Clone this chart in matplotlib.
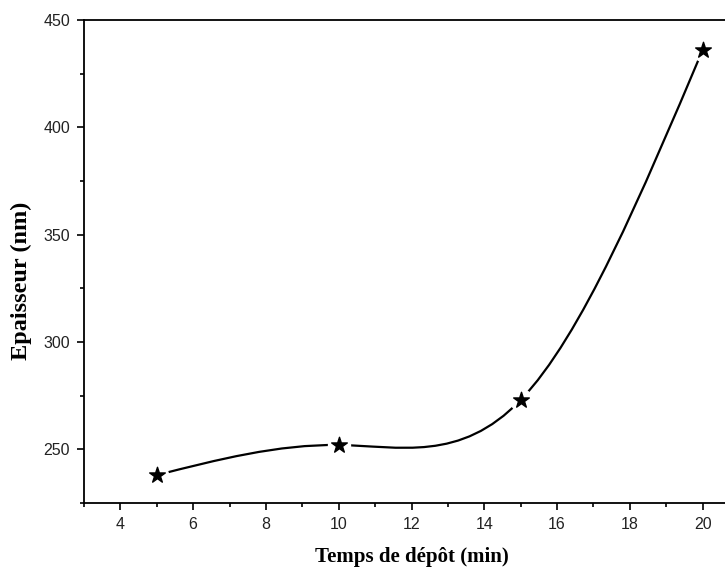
import numpy as np
import matplotlib.pyplot as plt
from matplotlib.path import Path
from matplotlib.patches import PathPatch
from matplotlib.ticker import MultipleLocator

temps = [5, 10, 15, 20]
epaisseur = [238, 252, 273, 436]


def spline_path(x, y):
    # natural cubic spline written as bezier segments, drawn by matplotlib
    x = np.asarray(x, float)
    y = np.asarray(y, float)
    n = len(x)
    h = np.diff(x)
    A = np.zeros((n, n))
    r = np.zeros(n)
    A[0, 0] = A[-1, -1] = 1
    for i in range(1, n - 1):
        A[i, i - 1] = h[i - 1]
        A[i, i] = 2 * (h[i - 1] + h[i])
        A[i, i + 1] = h[i]
        r[i] = 6 * ((y[i + 1] - y[i]) / h[i] - (y[i] - y[i - 1]) / h[i - 1])
    m = np.linalg.solve(A, r)
    d = np.zeros(n)
    for i in range(n - 1):
        d[i] = (y[i + 1] - y[i]) / h[i] - h[i] * (2 * m[i] + m[i + 1]) / 6
    d[-1] = (y[-1] - y[-2]) / h[-1] + h[-1] * (m[-2] + 2 * m[-1]) / 6
    verts = [(x[0], y[0])]
    codes = [Path.MOVETO]
    for i in range(n - 1):
        verts += [(x[i] + h[i] / 3, y[i] + d[i] * h[i] / 3),
                  (x[i + 1] - h[i] / 3, y[i + 1] - d[i + 1] * h[i] / 3),
                  (x[i + 1], y[i + 1])]
        codes += [Path.CURVE4] * 3
    return Path(verts, codes)


fig = plt.figure(figsize=(7.25, 5.72), dpi=100)
ax = fig.add_axes([84 / 725, 1 - 503 / 572, 655 / 725, 483 / 572])

ax.add_patch(PathPatch(spline_path(temps, epaisseur), facecolor='none',
                       edgecolor='black', lw=1.6, zorder=2))
ax.scatter(temps, epaisseur, s=250, c='white', marker='o', zorder=3)
ax.scatter(temps, epaisseur, s=140, c='black', marker='*', zorder=4)

ax.set_xlim(3, 21)
ax.set_ylim(225, 450)
ax.xaxis.set_major_locator(MultipleLocator(2))
ax.xaxis.set_minor_locator(MultipleLocator(1))
ax.yaxis.set_major_locator(MultipleLocator(50))
ax.yaxis.set_minor_locator(MultipleLocator(25))
ax.tick_params(which='major', direction='out', length=5, width=1.2, pad=5,
               labelsize=11.5, labelcolor='#222222',
               labelfontfamily='Liberation Sans')
ax.tick_params(which='minor', direction='out', length=3, width=1.2)
for s in ax.spines.values():
    s.set_linewidth(1.3)

ax.set_xlabel('Temps de dépôt (min)', family='Liberation Serif',
              fontweight='bold', fontsize=15, labelpad=11)
ax.set_ylabel('Epaisseur (nm)', family='Liberation Serif',
              fontweight='bold', fontsize=17.5, va='center')
ax.yaxis.set_label_coords(-0.095, 0.46)

fig.savefig('out.png', dpi=100)
